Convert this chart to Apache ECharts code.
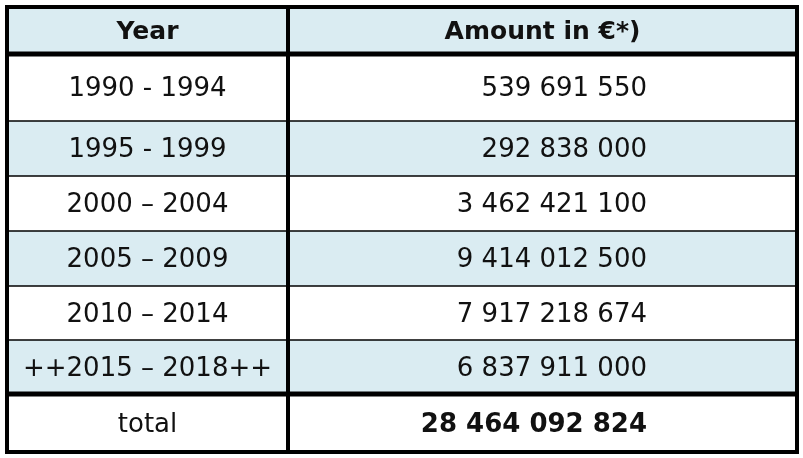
<!DOCTYPE html>
<html><head><meta charset="utf-8">
<script src="https://cdn.jsdelivr.net/npm/echarts@6/dist/echarts.min.js"></script>
<style>html,body{margin:0;padding:0;background:#fff}#c{width:803px;height:458px}</style>
</head><body><div id="c"></div>
<script>
const headers = ['Year', 'Amount in €*)'];
const years = ['1990 - 1994', '1995 - 1999', '2000 – 2004', '2005 – 2009', '2010 – 2014', '++2015 – 2018++', 'total'];
const amounts = ['539 691 550', '292 838 000', '3 462 421 100', '9 414 012 500', '7 917 218 674', '6 837 911 000', '28 464 092 824'];

// layout (pixel-unit axis coordinates)
const rowEdges = [0, 47, 114, 169, 224, 279, 333, 387, 445];
const colEdges = [0, 281, 790];
const amountRight = 640;
const fills = ['#daecf2', '#ffffff', '#daecf2', '#ffffff', '#daecf2', '#ffffff', '#daecf2', '#ffffff'];
const FONT = '"DejaVu Sans", Verdana, sans-serif';

const rows = [[headers[0], headers[1]]].concat(years.map((y, i) => [y, amounts[i]]));
const data = rows.map((r, i) => [i, r[0], r[1]]);

const chart = echarts.init(document.getElementById('c'));
chart.setOption({
  animation: false,
  grid: { left: 7, right: 6, top: 7, bottom: 6 },
  xAxis: { type: 'value', min: 0, max: 790, show: false },
  yAxis: { type: 'value', min: 0, max: 445, inverse: true, show: false },
  series: [{
    type: 'custom',
    data: data,
    renderItem: function (params, api) {
      const i = api.value(0);
      const r = rows[i];
      const p0 = api.coord([colEdges[0], rowEdges[i]]);
      const p1 = api.coord([colEdges[1], rowEdges[i + 1]]);
      const p2 = api.coord([colEdges[2], rowEdges[i + 1]]);
      const cy = (p0[1] + p1[1]) / 2 + 2;
      const bold = (i === 0 || i === rows.length - 1);
      const children = [
        { type: 'rect', z2: 0, shape: { x: p0[0], y: p0[1], width: p2[0] - p0[0], height: p1[1] - p0[1] }, style: { fill: fills[i] } },
        { type: 'text', z2: 1, style: { text: r[0], x: (p0[0] + p1[0]) / 2, y: cy, align: 'center', verticalAlign: 'middle',
          font: (i === 0 ? 'bold 25px ' : '26px ') + FONT, fill: '#111' } }
      ];
      if (i === 0) {
        children.push({ type: 'text', z2: 1, style: { text: r[1], x: (p1[0] + p2[0]) / 2, y: cy, align: 'center', verticalAlign: 'middle', font: 'bold 25px ' + FONT, fill: '#111' } });
      } else {
        const ax = api.coord([amountRight, 0])[0];
        children.push({ type: 'text', z2: 1, style: { text: r[1], x: ax, y: cy, align: 'right', verticalAlign: 'middle', font: (bold ? 'bold ' : '') + '26px ' + FONT, fill: '#111' } });
      }
      return { type: 'group', children: children };
    },
    z: 2
  }, {
    type: 'custom',
    data: data,
    renderItem: function (params, api) {
      const i = api.value(0);
      const p0 = api.coord([colEdges[0], rowEdges[i]]);
      const p1 = api.coord([colEdges[1], rowEdges[i + 1]]);
      const p2 = api.coord([colEdges[2], rowEdges[i + 1]]);
      const children = [];
      const thick = (i === 0 || i === rows.length - 2);
      if (i < rows.length - 1) {
        children.push({ type: 'line', shape: { x1: p0[0], y1: p1[1], x2: p2[0], y2: p1[1] }, style: { stroke: '#000', lineWidth: thick ? 5 : 1.3 } });
      }
      children.push({ type: 'line', shape: { x1: p1[0], y1: p0[1], x2: p1[0], y2: p1[1] }, style: { stroke: '#000', lineWidth: 4 } });
      return { type: 'group', children: children };
    },
    z: 4
  }, {
    type: 'custom',
    data: [[0]],
    renderItem: function (params, api) {
      const a = api.coord([0, 0]), b = api.coord([790, 445]);
      return { type: 'rect', shape: { x: a[0], y: a[1], width: b[0] - a[0], height: b[1] - a[1] }, style: { fill: 'none', stroke: '#000', lineWidth: 4 } };
    },
    z: 5
  }]
});
</script></body></html>
